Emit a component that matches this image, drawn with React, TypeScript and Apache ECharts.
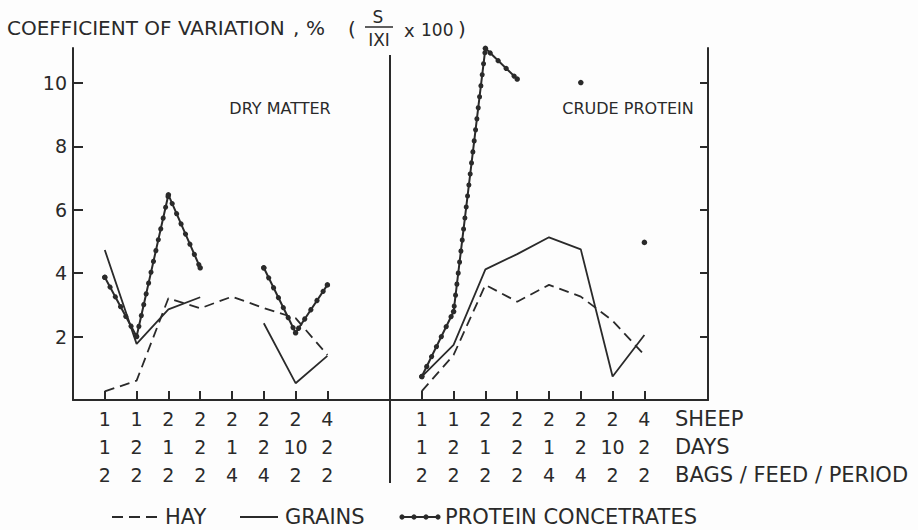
import React, { useEffect, useRef } from 'react';
import * as echarts from 'echarts';

// x-axis category rows
const sheep = ['1', '1', '2', '2', '2', '2', '2', '4'];
const days = ['1', '2', '1', '2', '1', '2', '10', '2'];
const bags = ['2', '2', '2', '2', '4', '4', '2', '2'];
const xTicks = [1, 2, 3, 4, 5, 6, 7, 8];
const yTicks = [2, 4, 6, 8, 10];

// DRY MATTER panel
const hayDM = [0.27, 0.61, 3.21, 2.89, 3.26, 2.9, 2.58, 1.42];
const grainsDM = [4.73, 1.77, 2.86, 3.24, null, 2.42, 0.53, 1.39];
const proteinDM = [3.87, 2.0, 6.47, 4.17, null, 4.17, 2.12, 3.63];

// CRUDE PROTEIN panel
const hayCP = [0.28, 1.42, 3.63, 3.1, 3.63, 3.26, 2.5, 1.42];
const grainsCP = [0.74, 1.74, 4.12, 4.6, 5.13, 4.75, 0.74, 2.05];
const proteinCP = [0.74, 2.79, 11.09, 10.12, null, 10.01, null, 4.97];

const FONT = 'DejaVu Sans';
const INK = '#2a2a2a';

const toData = (arr: (number | null)[]) => arr.map((v, i) => [i + 1, v == null ? '-' : v]);

function xAxis(gridIndex: number) {
  return {
    type: 'value',
    gridIndex,
    min: 0,
    max: 10,
    axisLine: { show: true, onZero: false, lineStyle: { color: INK, width: 2 } },
    axisTick: { show: true, inside: true, length: 9, customValues: xTicks, lineStyle: { color: INK, width: 2 } },
    axisLabel: {
      show: true,
      customValues: xTicks,
      margin: 5,
      fontFamily: FONT,
      fontSize: 19,
      lineHeight: 28,
      color: INK,
      formatter: (v: number) => {
        const i = Math.round(v) - 1;
        return `${sheep[i]}\n${days[i]}\n${bags[i]}`;
      },
    },
    splitLine: { show: false },
  };
}

function yAxis(gridIndex: number, right: boolean) {
  return {
    type: 'value',
    gridIndex,
    min: 0,
    max: 11.1,
    position: right ? 'right' : 'left',
    axisLine: { show: true, onZero: false, lineStyle: { color: INK, width: 2 } },
    axisTick: { show: true, inside: true, length: right ? 8 : 10, customValues: yTicks, lineStyle: { color: INK, width: 2 } },
    axisLabel: {
      show: !right,
      customValues: yTicks,
      margin: 6,
      fontFamily: FONT,
      fontSize: 19,
      color: INK,
    },
    splitLine: { show: false },
  };
}

function panelSeries(idx: number, hay: (number | null)[], grains: (number | null)[], protein: (number | null)[]) {
  const base = { type: 'line', xAxisIndex: idx, yAxisIndex: idx, connectNulls: false, clip: false, silent: true };
  return [
    {
      ...base,
      name: 'HAY',
      data: toData(hay),
      symbol: 'none',
      lineStyle: { color: INK, width: 1.8, type: [10, 6] },
    },
    {
      ...base,
      name: 'GRAINS',
      data: toData(grains),
      symbol: 'none',
      lineStyle: { color: INK, width: 1.8 },
    },
    {
      ...base,
      name: 'PROTEIN CONCETRATES',
      data: toData(protein),
      symbol: 'circle',
      symbolSize: 5.5,
      showSymbol: true,
      itemStyle: { color: INK, borderWidth: 0 },
      lineStyle: { color: INK, width: 2 },
    },
    {
      ...base,
      name: 'PROTEIN CONCETRATES dots',
      data: toData(protein),
      symbol: 'none',
      lineStyle: { color: INK, width: 5, type: [0.1, 11], cap: 'round' },
    },
  ];
}

function txt(text: string, x: number, y: number, fontSize: number, align = 'left') {
  return {
    type: 'text',
    x,
    y,
    silent: true,
    style: {
      text,
      fill: INK,
      fontFamily: FONT,
      fontSize,
      align,
      verticalAlign: 'middle',
      textAlign: align,
      textVerticalAlign: 'middle',
    },
  };
}

function hline(x1: number, x2: number, y: number, width: number, dash?: number[]) {
  return {
    type: 'line',
    silent: true,
    shape: { x1, y1: y, x2, y2: y },
    style: { stroke: INK, lineWidth: width, lineDash: dash },
  };
}

export default function App() {
  const ref = useRef<HTMLDivElement>(null);

  useEffect(() => {
    if (!ref.current) return;
    const chart = echarts.init(ref.current, null, { renderer: 'svg' });
    chart.setOption({
      animation: false,
      backgroundColor: '#fdfdfd',
      grid: [
        { left: 73, top: 48, width: 318, height: 352 },
        { left: 390, top: 48, width: 318, height: 352 },
      ],
      xAxis: [xAxis(0), xAxis(1)],
      yAxis: [yAxis(0, false), yAxis(1, true)],
      series: [
        ...panelSeries(0, hayDM, grainsDM, proteinDM),
        ...panelSeries(1, hayCP, grainsCP, proteinCP),
      ],
      graphic: [
        // divider between panels
        { type: 'line', silent: true, shape: { x1: 390, y1: 55, x2: 390, y2: 483 }, style: { stroke: INK, lineWidth: 2 } },
        // title
        txt('COEFFICIENT OF VARIATION', 7, 28, 20),
        txt(',', 293, 28, 20),
        txt('%', 306, 28, 20),
        txt('(', 348, 29, 20),
        txt('S', 378, 17, 17, 'center'),
        hline(365, 393, 27, 1.5),
        txt('IXI', 379, 40, 17, 'center'),
        txt('x', 404, 30, 18),
        txt('100', 421, 30, 17),
        txt(')', 458, 29, 20),
        // panel labels
        txt('DRY MATTER', 280, 108, 16, 'center'),
        txt('CRUDE PROTEIN', 628, 108, 16, 'center'),
        // row labels
        txt('SHEEP', 675, 419, 21),
        txt('DAYS', 675, 447, 21),
        txt('BAGS / FEED / PERIOD', 675, 475, 21),
        // legend
        hline(112, 160, 517, 2, [11, 6]),
        txt('HAY', 165, 517, 21),
        hline(240, 278, 517, 2),
        txt('GRAINS', 285, 517, 21),
        hline(401, 439, 517, 2),
        { type: 'circle', silent: true, shape: { cx: 402, cy: 517, r: 2.6 }, style: { fill: INK } },
        { type: 'circle', silent: true, shape: { cx: 414, cy: 517, r: 2.6 }, style: { fill: INK } },
        { type: 'circle', silent: true, shape: { cx: 426, cy: 517, r: 2.6 }, style: { fill: INK } },
        { type: 'circle', silent: true, shape: { cx: 438, cy: 517, r: 2.6 }, style: { fill: INK } },
        txt('PROTEIN CONCETRATES', 445, 517, 21),
      ],
    });
    return () => chart.dispose();
  }, []);

  return <div ref={ref} style={{ position: 'fixed', left: 0, top: 0, width: 918, height: 530 }} />;
}
